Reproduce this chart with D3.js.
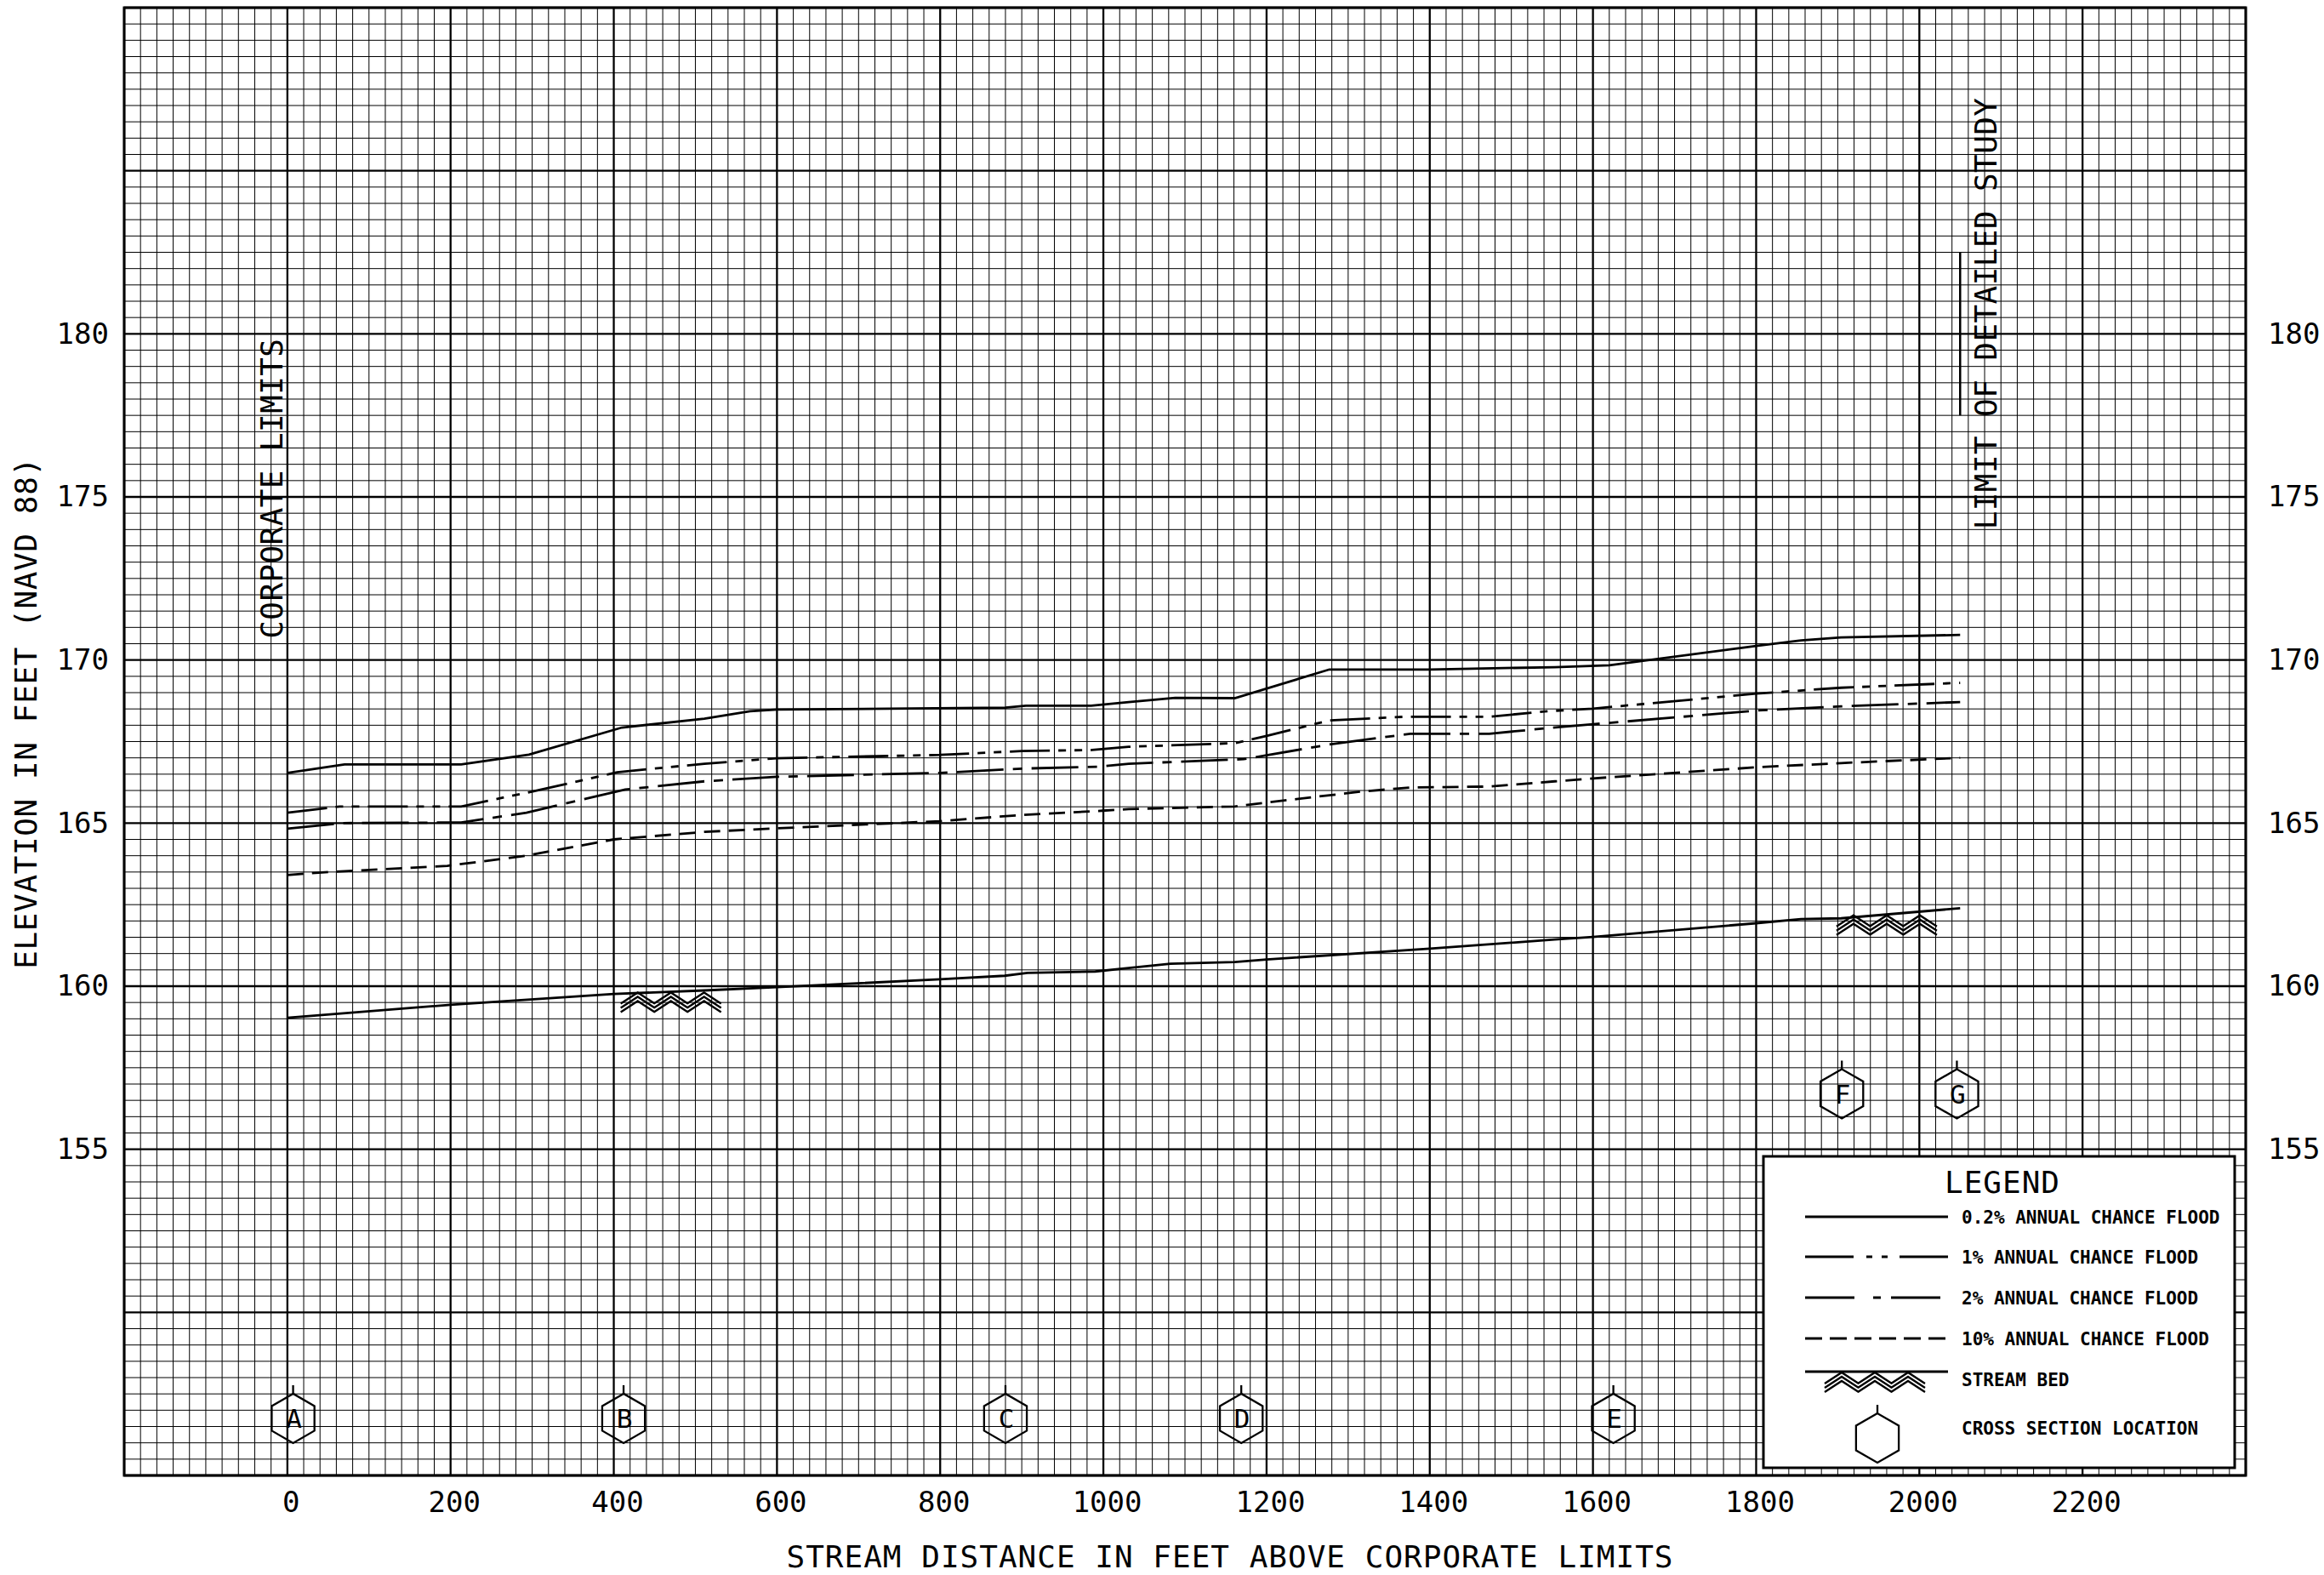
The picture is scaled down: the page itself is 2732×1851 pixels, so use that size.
<!DOCTYPE html>
<html>
<head>
<meta charset="utf-8">
<title>Flood Profile</title>
<script src="https://cdn.jsdelivr.net/npm/d3@7"></script>
<style>
    html, body { margin: 0; padding: 0; background: #fff; }
    svg text { font-family: "DejaVu Sans Mono", monospace; fill: #000; }
</style>
</head>
<body>
<svg id="chart"></svg>
<script>
// ---- profile data (stream distance in feet, elevation in feet NAVD 88) ----
const dist02 = [0, 70, 213, 296, 410, 511, 567, 600, 880, 905, 985, 1031, 1088, 1161, 1277, 1400, 1553, 1620, 1800, 1855, 1904, 2050];
const elev02 = [166.54, 166.8, 166.8, 167.1, 167.93, 168.2, 168.43, 168.48, 168.54, 168.6, 168.6, 168.71, 168.84, 168.83, 169.71, 169.71, 169.78, 169.84, 170.43, 170.6, 170.69, 170.77];

const dist1 = [0, 64, 213, 310, 404, 511, 600, 800, 900, 986, 1031, 1161, 1200, 1277, 1369, 1473, 1544, 1600, 1800, 1904, 2050];
const elev1 = [165.32, 165.51, 165.51, 166.02, 166.56, 166.82, 166.99, 167.09, 167.21, 167.24, 167.34, 167.45, 167.67, 168.15, 168.26, 168.26, 168.43, 168.51, 168.97, 169.15, 169.3];

const dist2 = [0, 68, 213, 293, 414, 511, 600, 800, 900, 993, 1031, 1172, 1200, 1277, 1376, 1473, 1544, 1600, 1800, 1904, 2050];
const elev2 = [164.83, 165.0, 165.02, 165.32, 166.03, 166.28, 166.42, 166.54, 166.67, 166.73, 166.82, 166.96, 167.08, 167.41, 167.74, 167.74, 167.91, 168.03, 168.45, 168.58, 168.71];

const dist10 = [0, 50, 196, 293, 400, 511, 600, 800, 900, 999, 1031, 1161, 1200, 1317, 1376, 1473, 1553, 1600, 1800, 1904, 2050];
const elev10 = [163.41, 163.5, 163.69, 164.0, 164.5, 164.73, 164.84, 165.06, 165.25, 165.38, 165.43, 165.51, 165.63, 165.97, 166.09, 166.12, 166.28, 166.37, 166.71, 166.84, 167.0];

const distBed = [0, 200, 400, 511, 600, 800, 879, 907, 990, 1031, 1082, 1161, 1200, 1400, 1553, 1600, 1800, 1855, 1904, 2050];
const elevBed = [159.03, 159.43, 159.76, 159.87, 159.97, 160.21, 160.32, 160.41, 160.45, 160.56, 160.69, 160.74, 160.82, 161.15, 161.43, 161.51, 161.93, 162.06, 162.08, 162.39];

// cross sections and stream bed symbols
const sectionLabels = ['A', 'B', 'C', 'D', 'E', 'F', 'G'];
const sectionDist = [7, 412, 880, 1169, 1625, 1905, 2046];
const bedSymbolDist = [470, 1960];
const studyLimitDist = 2050;

// ticks
const xTicks = [0, 200, 400, 600, 800, 1000, 1200, 1400, 1600, 1800, 2000, 2200];
const yTicks = [155, 160, 165, 170, 175, 180];

const legendLabels = ['0.2% ANNUAL CHANCE FLOOD', '1% ANNUAL CHANCE FLOOD', '2% ANNUAL CHANCE FLOOD', '10% ANNUAL CHANCE FLOOD'];

// ---- layout ----
const W = 2732, H = 1851;
const plot = { left: 146, right: 2640, top: 9, bottom: 1734 };

const svg = d3.select('#chart').attr('width', W).attr('height', H);
svg.append('rect').attr('width', W).attr('height', H).attr('fill', '#fff');

const x = d3.scaleLinear().domain([-200, 2400]).range([plot.left, plot.right]);
const y = d3.scaleLinear().domain([145, 190]).range([plot.bottom, plot.top]);

// ---- grid ----
const grid = svg.append('g').attr('class', 'grid');
const xMinor = d3.range(-200, 2401, 20);
const yMinor = d3.range(145, 190.01, 0.5);

grid.selectAll('line.vx')
    .data(xMinor)
    .enter()
    .append('line')
    .attr('x1', d => x(d)).attr('x2', d => x(d))
    .attr('y1', plot.top).attr('y2', plot.bottom)
    .attr('stroke', '#000')
    .attr('stroke-width', d => d % 200 === 0 ? 2.3 : 1);

grid.selectAll('line.hy')
    .data(yMinor)
    .enter()
    .append('line')
    .attr('y1', d => y(d)).attr('y2', d => y(d))
    .attr('x1', plot.left).attr('x2', plot.right)
    .attr('stroke', '#000')
    .attr('stroke-width', d => d % 5 === 0 ? 2.3 : 1);

svg.append('rect')
    .attr('x', plot.left).attr('y', plot.top)
    .attr('width', plot.right - plot.left).attr('height', plot.bottom - plot.top)
    .attr('fill', 'none').attr('stroke', '#000').attr('stroke-width', 3);

// ---- axes (labels only) ----
const axisLeft = svg.append('g')
    .attr('transform', `translate(${plot.left},0)`)
    .call(d3.axisLeft(y).tickValues(yTicks).tickSize(0).tickPadding(18));
const axisRight = svg.append('g')
    .attr('transform', `translate(${plot.right},0)`)
    .call(d3.axisRight(y).tickValues(yTicks).tickSize(0).tickPadding(26));
const axisBottom = svg.append('g')
    .attr('transform', `translate(4,${plot.bottom})`)
    .call(d3.axisBottom(x).tickValues(xTicks).tickFormat(d3.format('d')).tickSize(0).tickPadding(19));

[axisLeft, axisRight, axisBottom].forEach(a => {
    a.select('.domain').remove();
    a.selectAll('text')
        .style('font-family', '"DejaVu Sans Mono", monospace')
        .style('font-size', '34px')
        .attr('fill', '#000');
});

svg.append('text')
    .attr('x', 1446).attr('y', 1842)
    .attr('text-anchor', 'middle')
    .style('font-size', '36px')
    .style('letter-spacing', '1px')
    .text('STREAM DISTANCE IN FEET ABOVE CORPORATE LIMITS');

svg.append('text')
    .attr('transform', 'translate(43,838) rotate(-90)')
    .attr('text-anchor', 'middle')
    .style('font-size', '36px')
    .style('letter-spacing', '0.6px')
    .text('ELEVATION IN FEET (NAVD 88)');

// ---- annotations ----
svg.append('text')
    .attr('transform', `translate(${x(0) - 6},${y(170.65)}) rotate(-90)`)
    .style('font-size', '36px')
    .style('letter-spacing', '0.4px')
    .text('CORPORATE LIMITS');

svg.append('text')
    .attr('transform', `translate(${x(studyLimitDist) + 43},${y(174)}) rotate(-90)`)
    .style('font-size', '36px')
    .style('letter-spacing', '0.4px')
    .text('LIMIT OF DETAILED STUDY');

svg.append('line')
    .attr('x1', x(studyLimitDist)).attr('x2', x(studyLimitDist))
    .attr('y1', y(182.5)).attr('y2', y(177.5))
    .attr('stroke', '#000').attr('stroke-width', 2.5);

// ---- profiles ----
const series = [
    { d: dist02, e: elev02, dash: null, legendDash: null },
    { d: dist1, e: elev1, dash: '47,10,9,10,9,10', legendDash: '57,15,7,11,7,14' },
    { d: dist2, e: elev2, dash: '55,11,11,11', legendDash: '58,22,9,12' },
    { d: dist10, e: elev10, dash: '19,10', legendDash: '20,9' }
];

const line = d3.line().x(p => x(p[0])).y(p => y(p[1]));
const profiles = svg.append('g').attr('class', 'profiles');

series.forEach(s => {
    profiles.append('path')
        .datum(d3.zip(s.d, s.e))
        .attr('d', line)
        .attr('fill', 'none')
        .attr('stroke', '#000')
        .attr('stroke-width', 2.8)
        .attr('stroke-dasharray', s.dash);
});

profiles.append('path')
    .datum(d3.zip(distBed, elevBed))
    .attr('d', line)
    .attr('fill', 'none')
    .attr('stroke', '#000')
    .attr('stroke-width', 2.8);

// stream bed hatching symbol: three peaks, each drawn as three nested chevrons
function drawBedSymbol(g, cx, top) {
    [-39, 0, 39].forEach(off => {
        [0, 1, 2].forEach(k => {
            const py = top + 1 + k * 5;
            g.append('polyline')
                .attr('points', `${cx + off - 20},${py + 13} ${cx + off},${py} ${cx + off + 20},${py + 13}`)
                .attr('fill', 'none')
                .attr('stroke', '#000')
                .attr('stroke-width', 2.4);
        });
    });
}

const bedAt = d3.scaleLinear().domain(distBed).range(elevBed);
bedSymbolDist.forEach(d => drawBedSymbol(profiles, x(d), y(bedAt(d))));

// cross section hexagons
const hexR = 29;
function hexPoints(cx, cy) {
    return d3.range(6).map(i => {
        const a = Math.PI / 2 + i * Math.PI / 3;
        return [cx + hexR * Math.cos(a), cy - hexR * Math.sin(a)];
    });
}
const hexLine = d3.line().curve(d3.curveLinearClosed);

function drawSection(g, cx, cy, label) {
    g.append('path')
        .attr('d', hexLine(hexPoints(cx, cy)))
        .attr('fill', 'none')
        .attr('stroke', '#000')
        .attr('stroke-width', 2.3);
    g.append('line')
        .attr('x1', cx).attr('x2', cx)
        .attr('y1', cy - hexR).attr('y2', cy - hexR - 10)
        .attr('stroke', '#000').attr('stroke-width', 2.3);
    if (label) {
        g.append('text')
            .attr('x', cx + 1).attr('y', cy)
            .attr('dy', '0.36em')
            .attr('text-anchor', 'middle')
            .style('font-size', '31px')
            .text(label);
    }
}

const sections = svg.append('g').attr('class', 'sections');
sectionLabels.forEach((lab, i) => {
    const elevPos = (lab === 'F' || lab === 'G') ? 156.7 : 146.75;
    drawSection(sections, x(sectionDist[i]), y(elevPos), lab);
});

// ---- legend ----
const legend = svg.append('g').attr('class', 'legend');
legend.append('rect')
    .attr('x', 2073).attr('y', 1359)
    .attr('width', 2627 - 2073).attr('height', 1725 - 1359)
    .attr('fill', '#fff').attr('stroke', '#000').attr('stroke-width', 3);

legend.append('text')
    .attr('x', 2354).attr('y', 1402)
    .attr('text-anchor', 'middle')
    .style('font-size', '36px')
    .style('letter-spacing', '1px')
    .text('LEGEND');

const legendRows = [1430, 1477, 1525, 1573];
series.forEach((s, i) => {
    legend.append('line')
        .attr('x1', 2122).attr('x2', 2290)
        .attr('y1', legendRows[i]).attr('y2', legendRows[i])
        .attr('stroke', '#000').attr('stroke-width', 2.8)
        .attr('stroke-dasharray', s.legendDash);
    legend.append('text')
        .attr('x', 2306).attr('y', legendRows[i] + 8)
        .style('font-size', '21px')
        .style('font-weight', 'bold')
        .text(legendLabels[i]);
});

legend.append('line')
    .attr('x1', 2122).attr('x2', 2290)
    .attr('y1', 1612).attr('y2', 1612)
    .attr('stroke', '#000').attr('stroke-width', 2.8);
drawBedSymbol(legend, 2204, 1612);
legend.append('text')
    .attr('x', 2306).attr('y', 1629)
    .style('font-size', '21px')
    .style('font-weight', 'bold')
    .text('STREAM BED');

drawSection(legend, 2207, 1690, null);
legend.append('text')
    .attr('x', 2306).attr('y', 1686)
    .style('font-size', '21px')
    .style('font-weight', 'bold')
    .text('CROSS SECTION LOCATION');
</script>
</body>
</html>
